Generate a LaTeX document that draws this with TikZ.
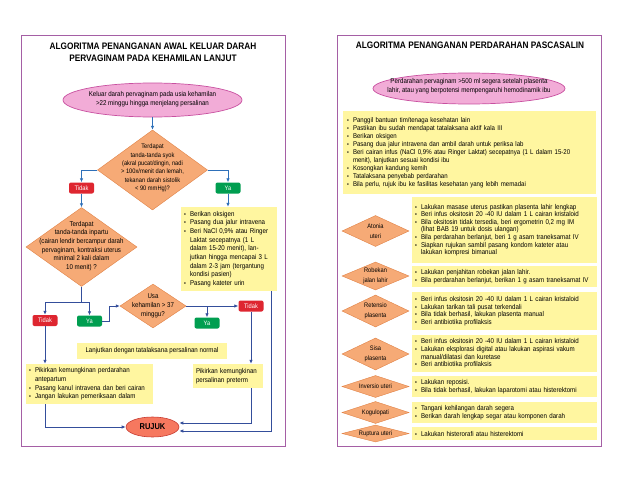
\documentclass[tikz,border=0pt]{standalone}
\usepackage{fontspec}
\usepackage{graphicx}
\setmainfont{Liberation Sans}[FakeStretch=0.88]
\usetikzlibrary{shapes.geometric,arrows.meta,calc}
\definecolor{framec}{RGB}{165,95,165}
\definecolor{pinkf}{RGB}{242,172,215}
\definecolor{pinkb}{RGB}{200,80,160}
\definecolor{oraf}{RGB}{246,170,118}
\definecolor{orab}{RGB}{225,130,70}
\definecolor{yel}{RGB}{255,246,160}
\definecolor{redc}{RGB}{222,38,48}
\definecolor{greenc}{RGB}{0,158,80}
\definecolor{rujf}{RGB}{246,120,95}
\definecolor{rujb}{RGB}{200,60,50}
\definecolor{blueL}{RGB}{46,112,185}
\definecolor{blueD}{RGB}{52,78,155}
\newcommand\bulx{\makebox[6pt][l]{\scalebox{0.85}{•}}}
\newcommand\indx{\hspace*{6pt}}
\newcommand\fA{\fontsize{7}{8.7}\selectfont}
\newcommand\fB{\fontsize{7.0}{7.6}\selectfont}
\newcommand\fC{\fontsize{6.9}{8.0}\selectfont}
\tikzset{
  frame/.style={draw=framec, line width=0.9pt},
  ttl/.style={font=\fontsize{9.4}{12}\selectfont\bfseries, align=center, inner sep=0pt},
  pinkell/.style={ellipse, draw=pinkb, fill=pinkf, line width=0.7pt, inner sep=0pt},
  etext/.style={align=center, inner sep=0pt, font=\fA},
  dia/.style={diamond, draw=orab, fill=oraf, line width=0.4pt, inner sep=0pt},
  dtext/.style={align=center, inner sep=0pt, font=\fA},
  tidak/.style={rectangle, rounded corners=2pt, fill=redc, text=white, minimum width=25pt, minimum height=11pt, inner sep=0pt, font=\fontsize{6.5}{7}\selectfont},
  yabox/.style={tidak, fill=greenc},
  ybox/.style={rectangle, fill=yel, inner xsep=3pt, inner ysep=1pt, align=left},
  rujuk/.style={ellipse, draw=rujb, fill=rujf, line width=0.6pt, inner sep=0pt, minimum width=53pt, minimum height=20pt, font=\fontsize{8.5}{9}\selectfont\bfseries},
  arrL/.style={draw=blueL, line width=0.8pt, -{Latex[length=4pt,width=3.5pt]}},
  arr/.style={draw=blueD, line width=0.8pt, -{Latex[length=4pt,width=3.5pt]}},
  ln/.style={draw=blueD, line width=0.8pt},
}
\begin{document}
\begin{tikzpicture}[x=1pt,y=-1pt]
\path[use as bounding box, fill=white] (0,0) rectangle (638,479);
% frames
\draw[frame] (21,35) rectangle (285,446);
\draw[frame] (337,35) rectangle (601,446);
% ---------------- LEFT PANEL ----------------
\node[ttl] (lt) at (153,52) {ALGORITMA PENANGANAN AWAL KELUAR DARAH\\PERVAGINAM PADA KEHAMILAN LANJUT};
\node[pinkell, minimum width=179pt, minimum height=34pt] (e1) at (152.5,100) {};
\node[etext] (e1t) at (152.5,99) {Keluar darah pervaginam pada usia kehamilan\\>22 minggu hingga menjelang persalinan};
\node[dia, minimum width=110pt, minimum height=80pt] (d1) at (152.5,170) {};
\node[dtext, font=\fontsize{6.5}{8.4}\selectfont] (d1t) at (152.5,168) {Terdapat\\tanda-tanda syok\\(akral pucat/dingin, nadi\\> 100x/menit dan lemah,\\tekanan darah sistolik\\< 90 mmHg)?};
\node[tidak] (n1) at (81.5,188) {Tidak};
\node[yabox] (y1) at (228,188) {Ya};
\node[dia, minimum width=111pt, minimum height=79pt] (d2) at (81.5,247) {};
\node[dtext] (d2t) at (81.5,246) {Terdapat\\tanda-tanda inpartu\\(cairan lendir bercampur darah\\pervaginam, kontraksi uterus\\minimal 2 kali dalam\\10 menit) ?};
\node[ybox, minimum width=96pt, minimum height=84pt, text width=90pt, font=\fA] (b1) at (229,249) {\bulx Berikan oksigen\\
\bulx Pasang dua jalur intravena\\
\bulx Beri NaCl 0,9\% atau Ringer\\
\indx Laktat secepatnya (1 L\\
\indx dalam 15-20 menit), lan-\\
\indx jutkan hingga mencapai 3 L\\
\indx dalam 2-3 jam (tergantung\\
\indx kondisi pasien)\\
\bulx Pasang kateter urin};
\node[dia, minimum width=66pt, minimum height=44pt] (d3) at (153,306) {};
\node[dtext] (d3t) at (153,306) {Usa\\kehamilan > 37\\minggu?};
\node[tidak] (n2) at (45,320.5) {Tidak};
\node[yabox] (y2) at (89.5,321) {Ya};
\node[tidak] (n3) at (251,306) {Tidak};
\node[yabox] (y3) at (207,323) {Ya};
\node[ybox, minimum width=150pt, minimum height=16pt, align=center, font=\fA] (l1) at (152,351) {Lanjutkan dengan tatalaksana persalinan normal};
\node[ybox, minimum width=127pt, minimum height=40pt, text width=121pt, font=\fA] (b2) at (89.5,384) {\bulx Pikirkan kemungkinan perdarahan\\
\indx antepartum\\
\bulx Pasang kanul intravena dan beri cairan\\
\bulx Jangan lakukan pemeriksaan dalam};
\node[ybox, minimum width=70pt, minimum height=24pt, text width=64pt, font=\fA] (b3) at (228,376) {Pikirkan kemungkinan\\persalinan preterm};
\node[rujuk] (r) at (152.5,427) {RUJUK};
% left connectors
\draw[arrL] (e1.south) -- (d1.north);
\draw[arrL] (d1.west) -| (n1.north);
\draw[arrL] (d1.east) -| (y1.north);
\draw[arrL] (n1.south) -- (d2.north);
\draw[arrL] (y1.south) -- (y1.south |- b1.north);
\coordinate (c2) at (81.5,302);
\draw[ln] (d2.south) -- (c2);
\draw[arr] (c2) -| (n2.north);
\draw[arr] (c2) -| (y2.north);
\draw[arr] (y2.east) -- ++(7,0) |- (d3.west);
\draw[arr] (d3.east) -- (n3.west);
\draw[arr] (d3.east -| y3.north) -- (y3.north);
\draw[arr] (n2.south) -- (n2.south |- b2.north);
\draw[arr] (n3.south) -- (n3.south |- b3.north);
\draw[arr] (b2.south -| n2.south) |- (r.west);
\draw[arr] (b3.south -| n3.south) |- ([yshift=4pt]r.east);
\draw[arr] ([xshift=-6pt]b1.south east) |- ([yshift=-4pt]r.east);
% ---------------- RIGHT PANEL ----------------
\node[ttl] (rt) at (470,45) {ALGORITMA PENANGANAN PERDARAHAN PASCASALIN};
\node[pinkell, minimum width=192pt, minimum height=31pt] (e2) at (469,88.5) {};
\node[etext] (e2t) at (469,86.5) {Perdarahan pervaginam >500 ml segera setelah plasenta\\lahir, atau yang berpotensi mempengaruhi hemodinamik ibu};
\node[ybox, minimum width=253pt, minimum height=83pt, text width=245pt, inner xsep=4pt, font=\fC] (bb) at (469.5,152.5) {\bulx Panggil bantuan tim/tenaga kesehatan lain\\
\bulx Pastikan ibu sudah mendapat tatalaksana aktif kala III\\
\bulx Berikan oksigen\\
\bulx Pasang dua jalur intravena dan ambil darah untuk periksa lab\\
\bulx Beri cairan infus (NaCl 0,9\% atau Ringer Laktat) secepatnya (1 L dalam 15-20\\
\indx menit), lanjutkan sesuai kondisi ibu\\
\bulx Kosongkan kandung kemih\\
\bulx Tatalaksana penyebab perdarahan\\
\bulx Bila perlu, rujuk ibu ke fasilitas kesehatan yang lebih memadai};
% rows
\node[dia, minimum width=67pt, minimum height=31pt] (ra) at (375.5,231) {};
\node[dtext, font=\fontsize{6.5}{9.5}\selectfont] (rat) at (375.5,231) {Atonia\\uteri};
\node[ybox, minimum width=185pt, minimum height=66pt, text width=179pt, font=\fB] (ba) at (504.5,230) {\bulx Lakukan masase uterus pastikan plasenta lahir lengkap\\
\bulx Beri infus oksitosin 20 -40 IU dalam 1 L cairan kristaloid\\
\bulx Bila oksitosin tidak tersedia, beri ergometrin 0,2 mg IM\\
\indx (lihat BAB 19 untuk dosis ulangan)\\
\bulx Bila perdarahan berlanjut, beri 1 g asam traneksamat IV\\
\bulx Siapkan rujukan sambil pasang kondom kateter atau\\
\indx lakukan kompresi bimanual};
\node[dia, minimum width=67pt, minimum height=28pt] (rb) at (375.5,276) {};
\node[dtext, font=\fontsize{6.5}{9.5}\selectfont] (rbt) at (375.5,276) {Robekan\\jalan lahir};
\node[ybox, minimum width=185pt, minimum height=21pt, text width=179pt, font=\fB] (bbr) at (504.5,276.5) {\bulx Lakukan penjahitan robekan jalan lahir.\\
\bulx Bila perdarahan berlanjut, berikan 1 g asam traneksamat IV};
\node[dia, minimum width=67pt, minimum height=32pt] (rc) at (375.5,311) {};
\node[dtext, font=\fontsize{6.5}{9.5}\selectfont] (rct) at (375.5,311) {Retensio\\plasenta};
\node[ybox, minimum width=185pt, minimum height=38pt, text width=179pt, font=\fB] (bc) at (504.5,311) {\bulx Beri infus oksitosin 20 -40 IU dalam 1 L cairan kristaloid\\
\bulx Lakukan tarikan tali pusat terkendali\\
\bulx Bila tidak berhasil, lakukan plasenta manual\\
\bulx Beri antibiotika profilaksis};
\node[dia, minimum width=67pt, minimum height=32pt] (rd) at (375.5,354) {};
\node[dtext, font=\fontsize{6.5}{9.5}\selectfont] (rdt) at (375.5,354) {Sisa\\plasenta};
\node[ybox, minimum width=185pt, minimum height=37pt, text width=179pt, font=\fB] (bd) at (504.5,353.5) {\bulx Beri infus oksitosin 20 -40 IU dalam 1 L cairan kristaloid\\
\bulx Lakukan eksplorasi digital atau lakukan aspirasi vakum\\
\indx manual/dilatasi dan kuretase\\
\bulx Beri antibiotika profilaksis};
\node[dia, minimum width=67pt, minimum height=22pt] (re) at (375.5,386.5) {};
\node[dtext, font=\fontsize{6.5}{8}\selectfont] (ret) at (375.5,386.5) {Inversio uteri};
\node[ybox, minimum width=185pt, minimum height=21pt, text width=179pt, font=\fB] (be) at (504.5,386.5) {\bulx Lakukan reposisi.\\
\bulx Bila tidak berhasil, lakukan laparotomi atau histerektomi};
\node[dia, minimum width=67pt, minimum height=22pt] (rf) at (375.5,412.5) {};
\node[dtext, font=\fontsize{6.5}{8}\selectfont] (rft) at (375.5,412.5) {Kogulopati};
\node[ybox, minimum width=185pt, minimum height=21pt, text width=179pt, font=\fB] (bf) at (504.5,412.5) {\bulx Tangani kehilangan darah segera\\
\bulx Berikan darah lengkap segar atau komponen darah};
\node[dia, minimum width=67pt, minimum height=17pt] (rg) at (375.5,433.5) {};
\node[dtext, font=\fontsize{6.5}{8}\selectfont] (rgt) at (375.5,433.5) {Ruptura uteri};
\node[ybox, minimum width=185pt, minimum height=13pt, text width=179pt, font=\fB] (bg) at (504.5,433.5) {\bulx Lakukan histerorafi atau histerektomi};
\end{tikzpicture}
\end{document}
